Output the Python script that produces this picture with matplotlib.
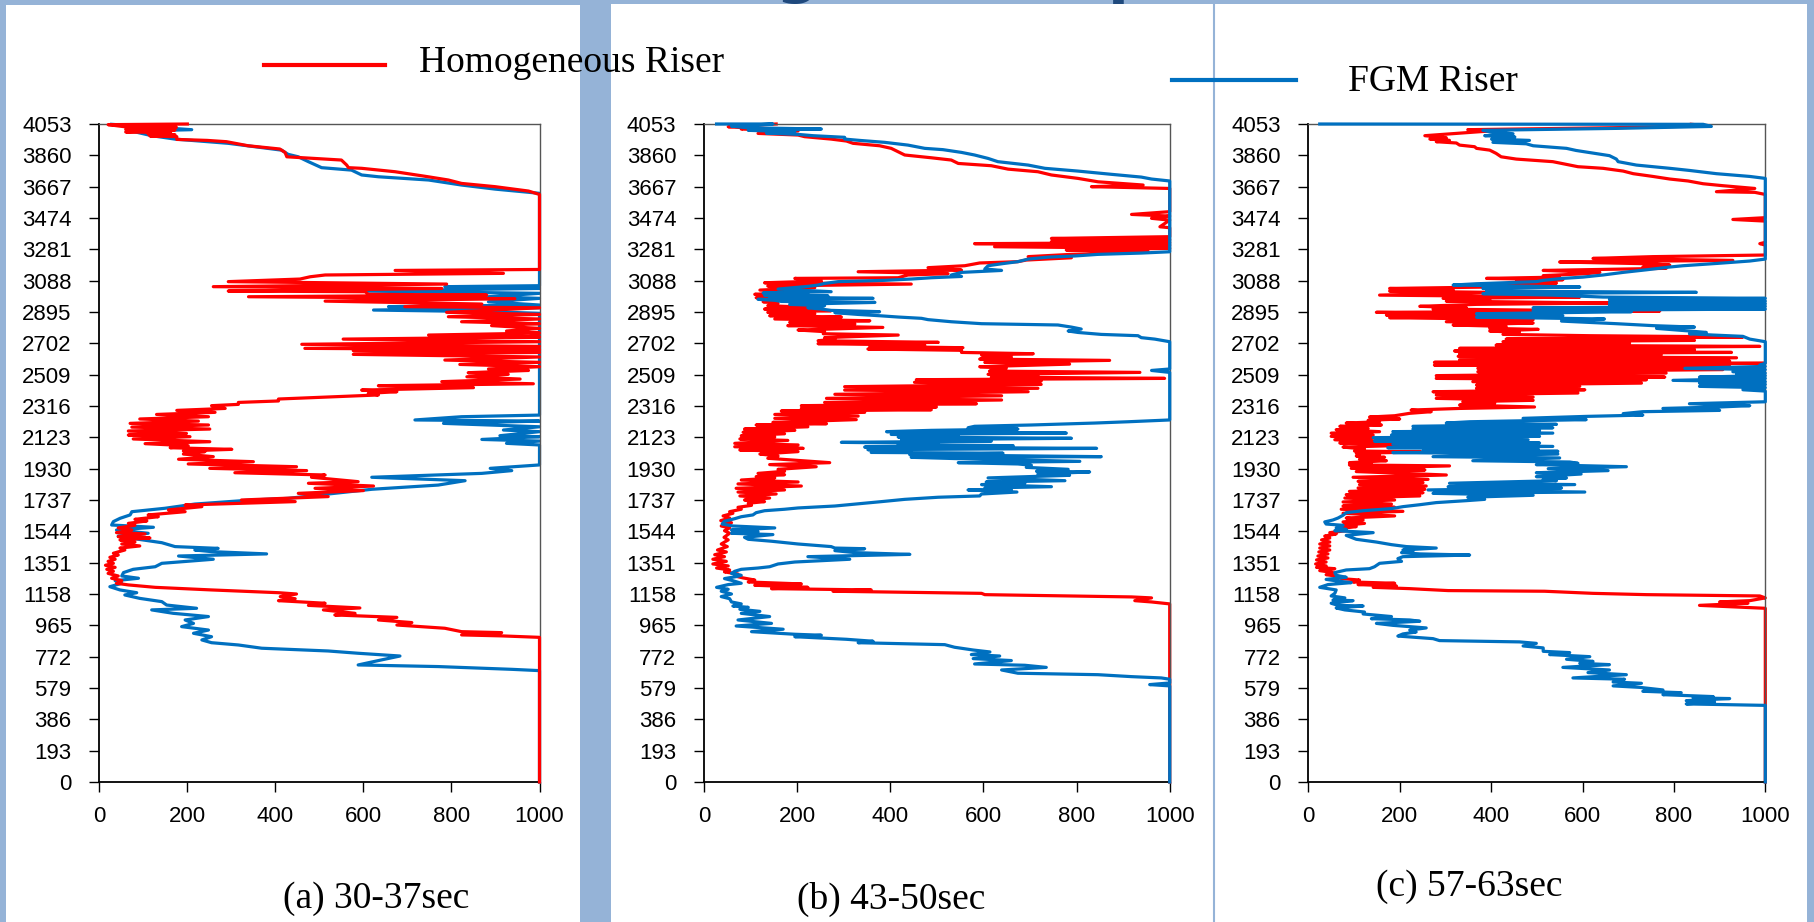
import numpy as np
import matplotlib
matplotlib.use("Agg")
import matplotlib.pyplot as plt
from matplotlib.patches import Rectangle
from matplotlib.lines import Line2D

# (value, position) pairs, top of the riser first
a_homogeneous = [
    (200, 4053), (20, 4049), (55, 4037), (175, 4033), (60, 4020), (172, 4016), (60, 4004), (162, 4000),
    (111, 3991), (172, 3987), (115, 3979), (176, 3975), (176, 3958), (245, 3952), (289, 3944), (338, 3919),
    (410, 3899), (422, 3878), (426, 3851), (550, 3831), (562, 3800), (566, 3784), (596, 3780), (672, 3759),
    (747, 3728), (793, 3708), (823, 3687), (899, 3667), (975, 3640), (1000, 3619), (1000, 3157), (672, 3151),
    (918, 3133), (513, 3123), (479, 3112), (456, 3098), (293, 3082), (789, 3067), (259, 3051), (778, 3040),
    (293, 3024), (604, 3020), (611, 3004), (880, 2999), (339, 2989), (944, 2977), (513, 2962), (869, 2944),
    (694, 2928), (1000, 2921), (789, 2893), (1000, 2880), (793, 2866), (1000, 2852), (823, 2835), (1000, 2823),
    (891, 2811), (1000, 2794), (925, 2778), (1000, 2765), (748, 2753), (1000, 2741), (554, 2728), (1000, 2712),
    (460, 2696), (1000, 2683), (467, 2671), (1000, 2663), (577, 2657), (1000, 2646), (577, 2634), (1000, 2618),
    (785, 2599), (1000, 2585), (819, 2572), (1000, 2558), (884, 2544), (975, 2535), (838, 2521), (929, 2511),
    (835, 2496), (956, 2482), (778, 2466), (986, 2453), (634, 2441), (850, 2429), (596, 2414), (676, 2404),
    (611, 2394), (634, 2384), (535, 2373), (407, 2359), (407, 2347), (316, 2338), (316, 2326), (255, 2318),
    (286, 2301), (176, 2289), (263, 2277), (130, 2264), (248, 2250), (92, 2236), (225, 2223), (70, 2209),
    (248, 2199), (74, 2186), (251, 2174), (66, 2162), (198, 2147), (66, 2137), (206, 2127), (77, 2113),
    (251, 2096), (104, 2084), (202, 2071), (161, 2059), (301, 2049), (191, 2039), (240, 2035), (191, 2020),
    (259, 2004), (180, 1988), (350, 1973), (202, 1959), (448, 1942), (251, 1932), (471, 1918), (308, 1905),
    (513, 1891), (482, 1877), (588, 1850), (475, 1840), (623, 1823), (490, 1809), (600, 1795), (452, 1778),
    (520, 1758), (323, 1737), (445, 1727), (195, 1706), (233, 1696), (157, 1676), (195, 1665), (111, 1645),
    (134, 1634), (81, 1618), (108, 1608), (66, 1593), (81, 1581), (43, 1565), (74, 1552), (39, 1536),
    (104, 1528), (43, 1511), (115, 1503), (47, 1491), (81, 1478), (51, 1466), (92, 1454), (47, 1441),
    (58, 1429), (32, 1409), (43, 1398), (24, 1384), (36, 1372), (20, 1359), (32, 1347), (14, 1335),
    (36, 1322), (17, 1310), (32, 1298), (20, 1285), (43, 1269), (28, 1255), (51, 1240), (39, 1224),
    (66, 1214), (127, 1199), (255, 1183), (407, 1166), (448, 1158), (411, 1142), (445, 1129), (407, 1117),
    (513, 1101), (475, 1088), (592, 1072), (509, 1060), (581, 1039), (535, 1029), (676, 1014), (634, 998),
    (710, 982), (676, 967), (785, 947), (823, 926), (914, 920), (823, 906), (914, 900), (1000, 891),
    (1000, 0),
]

a_fgm = [
    (28, 4051), (210, 4018), (74, 4009), (119, 3981), (172, 3960), (293, 3934), (414, 3892), (429, 3866),
    (452, 3851), (475, 3821), (505, 3784), (573, 3769), (596, 3739), (634, 3728), (748, 3708), (823, 3677),
    (899, 3652), (1000, 3626), (1000, 3057), (785, 3051), (1000, 3040), (600, 3024), (1000, 3010), (884, 2989),
    (1000, 2979), (884, 2958), (1000, 2938), (657, 2928), (1000, 2921), (623, 2907), (884, 2897), (1000, 2887),
    (1000, 2260), (823, 2250), (717, 2230), (1000, 2223), (782, 2209), (1000, 2188), (918, 2168), (1000, 2158),
    (910, 2133), (1000, 2127), (869, 2110), (1000, 2100), (925, 2086), (1000, 2076), (1000, 1953), (888, 1932),
    (937, 1918), (869, 1901), (619, 1877), (831, 1856), (770, 1829), (619, 1803), (429, 1747), (346, 1737),
    (217, 1712), (149, 1686), (74, 1665), (70, 1645), (47, 1624), (32, 1604), (28, 1583), (123, 1569),
    (39, 1552), (111, 1532), (43, 1515), (89, 1495), (142, 1474), (172, 1450), (270, 1439), (217, 1429),
    (255, 1419), (380, 1405), (180, 1392), (259, 1372), (142, 1347), (127, 1326), (77, 1310), (55, 1290),
    (51, 1269), (89, 1255), (36, 1240), (51, 1224), (24, 1203), (47, 1183), (85, 1166), (58, 1152),
    (92, 1131), (142, 1111), (153, 1090), (221, 1070), (119, 1060), (168, 1039), (248, 1019), (195, 998),
    (214, 977), (187, 957), (248, 936), (214, 916), (255, 895), (233, 875), (255, 858), (316, 844),
    (369, 824), (520, 807), (588, 793), (683, 776), (641, 752), (588, 721), (770, 711), (937, 694),
    (1000, 686), (1000, 0),
]

b_homogeneous = [
    (155, 4053), (52, 4036), (87, 4030), (80, 4022), (202, 4010), (116, 3995), (202, 3985), (216, 3975),
    (273, 3960), (306, 3948), (320, 3934), (377, 3919), (402, 3903), (417, 3882), (431, 3862), (488, 3845),
    (531, 3831), (546, 3810), (617, 3796), (653, 3775), (717, 3759), (746, 3739), (803, 3718), (846, 3697),
    (943, 3677), (832, 3667), (1000, 3656), (1000, 3513), (918, 3496), (1000, 3486), (961, 3472), (1000, 3461),
    (979, 3420), (1000, 3414), (1000, 3359), (746, 3348), (1000, 3340), (746, 3328), (1000, 3322), (581, 3316),
    (1000, 3307), (624, 3297), (1000, 3287), (778, 3277), (954, 3266), (789, 3250), (696, 3236), (789, 3229),
    (692, 3215), (674, 3205), (592, 3197), (560, 3180), (481, 3168), (553, 3153), (331, 3143), (524, 3131),
    (438, 3123), (417, 3106), (195, 3102), (252, 3086), (130, 3075), (445, 3067), (137, 3055), (238, 3045),
    (120, 3030), (223, 3020), (109, 3004), (159, 2993), (112, 2983), (188, 2973), (127, 2958), (159, 2948),
    (137, 2934), (231, 2923), (130, 2913), (273, 2903), (137, 2893), (238, 2884), (141, 2872), (295, 2864),
    (152, 2852), (356, 2841), (184, 2831), (324, 2821), (180, 2811), (384, 2800), (202, 2784), (259, 2774),
    (256, 2761), (417, 2753), (259, 2737), (281, 2728), (245, 2718), (503, 2708), (245, 2700), (474, 2691),
    (356, 2683), (556, 2675), (352, 2667), (553, 2659), (553, 2646), (707, 2638), (596, 2630), (660, 2618),
    (592, 2605), (871, 2597), (603, 2585), (785, 2574), (592, 2558), (649, 2548), (613, 2531), (936, 2523),
    (610, 2511), (717, 2503), (617, 2494), (989, 2486), (456, 2478), (724, 2470), (452, 2462), (724, 2449),
    (302, 2435), (717, 2425), (302, 2414), (696, 2404), (281, 2388), (639, 2379), (263, 2363), (639, 2353),
    (259, 2338), (585, 2330), (209, 2318), (499, 2310), (209, 2301), (488, 2293), (166, 2285), (345, 2277),
    (152, 2264), (331, 2254), (152, 2240), (327, 2232), (148, 2215), (263, 2207), (112, 2199), (223, 2188),
    (87, 2174), (195, 2166), (84, 2154), (173, 2145), (80, 2133), (152, 2125), (77, 2113), (180, 2104),
    (66, 2086), (202, 2076), (66, 2065), (213, 2055), (77, 2045), (202, 2035), (120, 2020), (159, 2008),
    (137, 1994), (270, 1967), (141, 1955), (241, 1942), (159, 1926), (173, 1914), (116, 1901), (173, 1893),
    (112, 1881), (152, 1873), (80, 1860), (202, 1848), (73, 1836), (209, 1823), (69, 1809), (173, 1799),
    (73, 1786), (155, 1774), (77, 1762), (141, 1749), (87, 1737), (130, 1727), (95, 1717), (102, 1704),
    (73, 1692), (80, 1680), (55, 1665), (62, 1655), (41, 1639), (55, 1626), (36, 1610), (59, 1597),
    (37, 1577), (55, 1565), (44, 1548), (55, 1532), (43, 1507), (52, 1491), (37, 1466), (50, 1450),
    (29, 1429), (48, 1417), (23, 1400), (44, 1388), (19, 1372), (48, 1359), (19, 1343), (52, 1331),
    (27, 1318), (55, 1306), (44, 1294), (73, 1281), (66, 1269), (84, 1257), (109, 1244), (95, 1232),
    (209, 1220), (109, 1212), (223, 1199), (145, 1191), (359, 1183), (277, 1175), (596, 1162), (603, 1154),
    (739, 1148), (918, 1140), (961, 1134), (925, 1117), (961, 1109), (1000, 1097), (1000, 0),
]

b_fgm = [
    (27, 4053), (148, 4053), (59, 4040), (91, 4030), (252, 4022), (95, 4014), (195, 4005), (134, 3997),
    (202, 3989), (234, 3981), (302, 3971), (302, 3960), (334, 3952), (388, 3940), (438, 3923), (474, 3903),
    (513, 3895), (553, 3878), (581, 3862), (610, 3841), (631, 3821), (696, 3800), (732, 3780), (803, 3763),
    (875, 3743), (939, 3726), (961, 3714), (1000, 3702), (1000, 3266), (939, 3258), (846, 3250), (796, 3240),
    (739, 3233), (696, 3221), (674, 3205), (639, 3192), (610, 3180), (603, 3160), (639, 3151), (553, 3139),
    (531, 3123), (553, 3114), (488, 3106), (445, 3098), (388, 3090), (288, 3082), (259, 3071), (245, 3061),
    (223, 3053), (159, 3036), (273, 3020), (127, 3012), (223, 3004), (130, 2999), (266, 2995), (141, 2987),
    (363, 2979), (116, 2973), (152, 2967), (166, 2960), (367, 2954), (184, 2942), (259, 2934), (223, 2921),
    (252, 2913), (273, 2905), (377, 2897), (281, 2891), (331, 2880), (377, 2872), (417, 2864), (467, 2856),
    (481, 2848), (531, 2835), (596, 2823), (760, 2815), (789, 2802), (810, 2790), (782, 2778), (803, 2769),
    (853, 2757), (932, 2749), (939, 2737), (968, 2728), (1000, 2712), (1000, 2544), (961, 2535), (1000, 2523),
    (1000, 2230), (911, 2219), (839, 2211), (703, 2199), (581, 2191), (567, 2182), (674, 2174), (488, 2166),
    (392, 2158), (778, 2149), (402, 2141), (546, 2133), (417, 2125), (789, 2117), (424, 2108), (617, 2100),
    (295, 2092), (503, 2086), (417, 2080), (664, 2071), (345, 2063), (843, 2055), (352, 2047), (445, 2039),
    (359, 2030), (642, 2025), (442, 2016), (853, 2004), (445, 2000), (542, 1992), (807, 1975), (546, 1967),
    (674, 1959), (703, 1951), (692, 1938), (782, 1926), (714, 1914), (828, 1910), (717, 1897), (785, 1889),
    (610, 1873), (775, 1856), (606, 1848), (689, 1840), (596, 1832), (746, 1819), (603, 1811), (660, 1803),
    (567, 1799), (672, 1786), (596, 1774), (592, 1762), (503, 1754), (431, 1741), (381, 1727), (324, 1712),
    (281, 1700), (202, 1688), (173, 1680), (130, 1671), (112, 1659), (105, 1645), (80, 1634), (66, 1622),
    (44, 1606), (39, 1589), (62, 1577), (152, 1565), (59, 1552), (116, 1542), (59, 1532), (148, 1524),
    (87, 1507), (95, 1495), (145, 1483), (202, 1466), (273, 1450), (281, 1441), (345, 1437), (281, 1425),
    (324, 1413), (442, 1402), (223, 1388), (313, 1372), (195, 1355), (159, 1343), (141, 1326), (116, 1318),
    (80, 1310), (66, 1298), (59, 1285), (80, 1273), (69, 1265), (44, 1253), (62, 1240), (80, 1224),
    (52, 1216), (27, 1199), (52, 1187), (37, 1175), (59, 1158), (37, 1142), (55, 1129), (59, 1109),
    (80, 1097), (62, 1084), (95, 1076), (77, 1064), (120, 1051), (80, 1039), (141, 1019), (73, 998),
    (145, 977), (69, 961), (170, 941), (102, 926), (195, 910), (252, 904), (195, 895), (306, 879),
    (363, 867), (331, 858), (517, 846), (538, 830), (578, 813), (614, 801), (574, 785), (635, 776),
    (578, 760), (660, 748), (581, 727), (689, 719), (735, 706), (639, 690), (674, 670), (846, 661),
    (918, 649), (982, 641), (1000, 633), (1000, 610), (957, 600), (1000, 592), (1000, 0),
]

c_homogeneous = [
    (838, 4051), (875, 4042), (667, 4030), (349, 4018), (397, 4010), (255, 3981), (302, 3968), (266, 3960),
    (309, 3952), (280, 3944), (324, 3936), (331, 3923), (364, 3913), (368, 3903), (397, 3892), (411, 3872),
    (422, 3851), (455, 3837), (535, 3821), (572, 3800), (590, 3790), (645, 3780), (689, 3763), (711, 3747),
    (754, 3730), (791, 3714), (831, 3702), (864, 3685), (907, 3673), (977, 3656), (893, 3636), (977, 3632),
    (1000, 3619), (1000, 3476), (929, 3465), (1000, 3455), (1000, 3324), (988, 3316), (1000, 3307), (1000, 3246),
    (754, 3236), (623, 3225), (929, 3213), (550, 3203), (747, 3192), (791, 3184), (732, 3172), (783, 3164),
    (514, 3151), (638, 3139), (608, 3131), (514, 3119), (550, 3110), (390, 3102), (557, 3094), (455, 3082),
    (543, 3073), (324, 3061), (499, 3053), (178, 3040), (317, 3032), (178, 3024), (397, 3016), (156, 2999),
    (594, 2987), (295, 2979), (397, 2971), (302, 2962), (659, 2950), (368, 2942), (244, 2930), (346, 2921),
    (273, 2913), (484, 2907), (769, 2901), (149, 2893), (368, 2884), (171, 2876), (382, 2868), (178, 2860),
    (492, 2848), (302, 2835), (492, 2827), (317, 2815), (433, 2806), (397, 2794), (503, 2788), (397, 2778),
    (462, 2769), (426, 2757), (616, 2749), (951, 2741), (433, 2728), (845, 2720), (426, 2712), (703, 2704),
    (411, 2691), (988, 2683), (331, 2671), (845, 2663), (320, 2655), (926, 2646), (331, 2638), (772, 2630),
    (328, 2622), (937, 2613), (331, 2601), (922, 2593), (276, 2585), (999, 2579), (276, 2568), (922, 2560),
    (371, 2548), (907, 2540), (371, 2527), (783, 2519), (280, 2503), (780, 2494), (280, 2486), (740, 2478),
    (360, 2466), (729, 2457), (368, 2445), (594, 2437), (368, 2425), (605, 2416), (273, 2404), (590, 2396),
    (280, 2384), (492, 2371), (280, 2363), (492, 2351), (338, 2342), (408, 2334), (331, 2322), (495, 2310),
    (331, 2301), (225, 2291), (269, 2281), (222, 2271), (189, 2256), (134, 2248), (200, 2236), (131, 2228),
    (156, 2219), (83, 2211), (160, 2199), (69, 2191), (131, 2178), (61, 2170), (156, 2158), (50, 2149),
    (142, 2137), (50, 2129), (142, 2117), (58, 2108), (145, 2096), (69, 2088), (244, 2076), (76, 2063),
    (123, 2051), (101, 2039), (247, 2033), (105, 2025), (156, 2016), (105, 2008), (167, 2000), (112, 1988),
    (171, 1979), (90, 1967), (138, 1963), (90, 1953), (309, 1947), (94, 1932), (255, 1922), (105, 1912),
    (302, 1891), (98, 1877), (262, 1864), (109, 1852), (251, 1844), (112, 1832), (258, 1823), (109, 1811),
    (255, 1803), (90, 1790), (251, 1782), (83, 1770), (244, 1762), (80, 1749), (189, 1737), (76, 1725),
    (182, 1712), (76, 1700), (189, 1692), (72, 1680), (207, 1667), (76, 1655), (189, 1639), (83, 1626),
    (120, 1614), (76, 1602), (123, 1593), (76, 1581), (105, 1573), (69, 1561), (83, 1548), (47, 1536),
    (61, 1528), (36, 1515), (47, 1503), (29, 1491), (47, 1478), (25, 1466), (47, 1454), (25, 1441),
    (47, 1429), (23, 1417), (43, 1405), (21, 1392), (43, 1380), (18, 1368), (39, 1355), (16, 1343),
    (39, 1331), (18, 1322), (58, 1314), (25, 1302), (54, 1290), (39, 1277), (69, 1265), (72, 1253),
    (112, 1244), (98, 1232), (189, 1224), (109, 1216), (193, 1207), (142, 1199), (222, 1191), (306, 1179),
    (517, 1175), (623, 1162), (740, 1154), (988, 1146), (1000, 1134), (966, 1117), (900, 1109), (962, 1101),
    (856, 1088), (922, 1080), (1000, 1070), (1000, 0),
]

c_fgm = [
    (25, 4053), (864, 4051), (882, 4038), (674, 4026), (382, 4014), (397, 4005), (448, 3993), (386, 3981),
    (452, 3973), (401, 3960), (484, 3952), (404, 3940), (477, 3931), (492, 3919), (565, 3903), (586, 3890),
    (623, 3874), (659, 3858), (674, 3837), (678, 3821), (718, 3800), (791, 3780), (834, 3767), (893, 3747),
    (966, 3730), (1000, 3718), (1000, 3221), (966, 3209), (893, 3194), (820, 3180), (791, 3172), (740, 3155),
    (689, 3139), (645, 3123), (601, 3110), (557, 3102), (514, 3090), (499, 3082), (368, 3069), (317, 3061),
    (594, 3049), (382, 3040), (426, 3032), (390, 3024), (849, 3016), (382, 3008), (535, 2999), (645, 2987),
    (1000, 2979), (659, 2971), (1000, 2962), (659, 2954), (1000, 2946), (659, 2938), (1000, 2930), (492, 2921),
    (1000, 2913), (492, 2905), (707, 2897), (368, 2884), (557, 2872), (368, 2864), (648, 2852), (554, 2839),
    (674, 2823), (754, 2811), (845, 2802), (762, 2794), (834, 2778), (871, 2769), (834, 2761), (886, 2753),
    (951, 2745), (966, 2728), (1000, 2712), (1000, 2579), (988, 2568), (1000, 2560), (824, 2548), (1000, 2540),
    (929, 2527), (1000, 2519), (937, 2511), (1000, 2503), (856, 2494), (1000, 2486), (798, 2474), (1000, 2466),
    (856, 2457), (1000, 2449), (856, 2437), (1000, 2429), (951, 2416), (1000, 2408), (1000, 2342), (834, 2330),
    (966, 2318), (900, 2310), (776, 2301), (900, 2289), (732, 2281), (689, 2269), (732, 2260), (608, 2252),
    (470, 2240), (608, 2232), (353, 2219), (302, 2211), (543, 2203), (229, 2191), (535, 2182), (229, 2174),
    (506, 2166), (185, 2158), (535, 2149), (182, 2137), (506, 2129), (142, 2121), (481, 2108), (145, 2100),
    (506, 2088), (185, 2080), (535, 2067), (174, 2059), (503, 2051), (251, 2039), (546, 2037), (185, 2029),
    (546, 2020), (273, 2004), (550, 1996), (360, 1979), (572, 1971), (590, 1963), (499, 1955), (696, 1942),
    (525, 1930), (656, 1918), (499, 1905), (597, 1897), (499, 1881), (565, 1873), (514, 1864), (543, 1856),
    (309, 1840), (583, 1832), (306, 1819), (554, 1811), (262, 1799), (605, 1786), (273, 1778), (492, 1766),
    (349, 1754), (386, 1741), (346, 1733), (280, 1721), (244, 1708), (207, 1696), (182, 1684), (120, 1671),
    (83, 1659), (76, 1643), (65, 1626), (54, 1614), (36, 1602), (39, 1589), (76, 1581), (61, 1565),
    (83, 1556), (58, 1548), (142, 1536), (83, 1519), (105, 1495), (149, 1478), (182, 1462), (215, 1450),
    (280, 1441), (207, 1429), (229, 1421), (204, 1413), (244, 1405), (353, 1398), (207, 1388), (196, 1376),
    (204, 1359), (156, 1347), (145, 1326), (134, 1314), (83, 1306), (58, 1290), (61, 1273), (83, 1261),
    (39, 1248), (69, 1236), (94, 1228), (43, 1216), (25, 1199), (61, 1183), (58, 1162), (50, 1146),
    (80, 1134), (54, 1121), (98, 1117), (50, 1101), (65, 1088), (120, 1084), (61, 1072), (80, 1060),
    (123, 1047), (120, 1035), (182, 1019), (138, 1006), (222, 998), (244, 990), (149, 977), (185, 965),
    (258, 949), (222, 936), (236, 924), (207, 912), (196, 899), (273, 883), (287, 871), (462, 863),
    (499, 854), (470, 838), (514, 826), (514, 805), (572, 797), (528, 785), (616, 772), (565, 756),
    (623, 743), (594, 731), (659, 723), (557, 706), (659, 690), (612, 674), (696, 661), (579, 641),
    (692, 633), (667, 616), (729, 608), (667, 592), (725, 583), (776, 567), (732, 559), (816, 550),
    (776, 538), (886, 526), (842, 518), (922, 514), (827, 501), (889, 493), (827, 481), (1000, 472),
    (1000, 0),
]

captions = ["(a) 30-37sec", "(b) 43-50sec", "(c) 57-63sec"]
y_ticks = np.arange(0, 4054, 193)
x_ticks = [0, 200, 400, 600, 800, 1000]

RED = "#FF0000"
BLUE = "#0070C0"
SLIDE = "#95B3D7"
W, H = 1814, 922


def fx(px):
    return px / W


def fy(py):
    # py measured from the top of the picture
    return 1 - py / H


fig = plt.figure(figsize=(W / 100, H / 100), dpi=100, facecolor=SLIDE)

# white slide areas (kept behind the axes)
fig.patches.append(Rectangle((fx(6), 0), fx(580) - fx(6), fy(5), transform=fig.transFigure,
                             facecolor="white", edgecolor="none", zorder=-10))
fig.patches.append(Rectangle((fx(611), 0), fx(1807) - fx(611), fy(4), transform=fig.transFigure,
                             facecolor="white", edgecolor="none", zorder=-10))
fig.add_artist(Line2D([fx(1213.5), fx(1213.5)], [0, fy(4)], color=SLIDE, lw=1.5, zorder=-5))

# bottom of the slide title, cut off by the crop
fig.text(fx(797), fy(-9.5), "g", fontsize=44, color="#1F497D", ha="center", va="baseline",
         fontweight="bold")
fig.text(fx(1108), fy(-9.5), "p", fontsize=44, color="#1F497D", ha="left", va="baseline",
         fontweight="bold")

panels = [
    (a_homogeneous, a_fgm, (99.3, 539.5), True, (376, 899)),
    (b_homogeneous, b_fgm, (704, 1169.7), False, (891, 899)),
    (c_homogeneous, c_fgm, (1308.3, 1765.3), False, (1469, 887)),
]

for (homo, fgm, (x0, x1), red_top, (cx, cy)), cap in zip(panels, captions):
    ax = fig.add_axes([fx(x0), fy(782), fx(x1) - fx(x0), fy(124) - fy(782)])
    ax.set_zorder(1)
    ax.set_facecolor("white")
    homo = np.array(homo)
    fgm = np.array(fgm)
    ax.plot(fgm[:, 0], fgm[:, 1], color=BLUE, lw=2.3, clip_on=False,
            zorder=2 if red_top else 3, solid_joinstyle="round")
    ax.plot(homo[:, 0], homo[:, 1], color=RED, lw=2.3, clip_on=False,
            zorder=3 if red_top else 2, solid_joinstyle="round")
    ax.set_xlim(0, 1000)
    ax.set_ylim(0, 4053)
    ax.set_xticks(x_ticks)
    ax.set_yticks(y_ticks)
    ax.tick_params(direction="out", length=7, width=1, colors="black")
    ax.tick_params(axis="y", pad=13)
    ax.tick_params(axis="x", pad=10)
    for lab in ax.get_xticklabels() + ax.get_yticklabels():
        lab.set_fontfamily("Liberation Sans")
        lab.set_fontsize(16)
    for side in ["left", "bottom"]:
        ax.spines[side].set_color("black")
        ax.spines[side].set_linewidth(1.3)
    for side in ["top", "right"]:
        ax.spines[side].set_color("#555555")
        ax.spines[side].set_linewidth(1.0)
    fig.text(fx(cx), fy(cy), cap, ha="center", va="center", fontsize=27,
             family="Liberation Serif")

# legend, drawn straight on the slide
fig.add_artist(Line2D([fx(264), fx(385)], [fy(65), fy(65)], color=RED, lw=3))
fig.text(fx(419), fy(72), "Homogeneous Riser", fontsize=27, family="Liberation Serif",
         ha="left", va="baseline", zorder=5)
fig.add_artist(Line2D([fx(1172), fx(1296)], [fy(80), fy(80)], color=BLUE, lw=3))
fig.text(fx(1348), fy(91), "FGM Riser", fontsize=27, family="Liberation Serif",
         ha="left", va="baseline", zorder=5)

fig.savefig("out.png", dpi=100, facecolor=SLIDE)
